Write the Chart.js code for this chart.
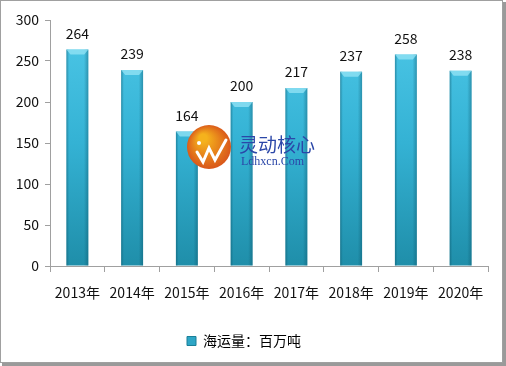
<!DOCTYPE html>
<html><head><meta charset="utf-8">
<script src="https://cdn.jsdelivr.net/npm/chart.js@4"></script>
<style>html,body{margin:0;padding:0;background:#fff}#wrap{width:506px;height:366px;position:relative}</style>
</head><body><div id="wrap"><canvas id="c" width="506" height="366"></canvas></div>
<script>
const categories = ['2013年','2014年','2015年','2016年','2017年','2018年','2019年','2020年'];
const seriesName = '海运量：百万吨';
const values = [264, 239, 164, 200, 217, 237, 258, 238];
const yTicks = [0, 50, 100, 150, 200, 250, 300];

const FONT = '"Noto Sans CJK SC", "DejaVu Sans", sans-serif';

const framePlugin = {
  id: 'frame',
  beforeDraw(chart) {
    const ctx = chart.ctx;
    ctx.save();
    ctx.fillStyle = '#fff';
    ctx.fillRect(0, 0, chart.width, chart.height);
    ctx.fillStyle = '#9a9a9a';
    ctx.fillRect(502, 2, 4, 364);
    ctx.fillRect(2, 362, 504, 4);
    ctx.strokeStyle = '#a0a0a0';
    ctx.lineWidth = 1;
    ctx.strokeRect(0.5, 0.5, 502, 362);
    ctx.restore();
  }
};

const watermarkPlugin = {
  id: 'watermark',
  afterDatasetsDraw(chart) {
    const ctx = chart.ctx;
    ctx.save();
    const g = ctx.createRadialGradient(203, 138, 4, 209, 147, 23);
    g.addColorStop(0, '#f5b21c');
    g.addColorStop(1, '#d8531a');
    ctx.fillStyle = g;
    ctx.beginPath();
    ctx.arc(209, 147, 22, 0, Math.PI * 2);
    ctx.fill();
    ctx.strokeStyle = '#fff';
    ctx.lineWidth = 3;
    ctx.lineCap = 'round';
    ctx.beginPath();
    ctx.moveTo(197, 152); ctx.lineTo(203, 162); ctx.lineTo(209, 148); ctx.lineTo(215, 160); ctx.lineTo(226, 140);
    ctx.stroke();
    ctx.fillStyle = '#fff';
    ctx.beginPath(); ctx.arc(199, 143, 2, 0, Math.PI * 2); ctx.fill();
    ctx.fillStyle = '#2b47a8';
    ctx.font = '19px ' + FONT;
    ctx.textAlign = 'left';
    ctx.textBaseline = 'alphabetic';
    ctx.fillText('灵动核心', 239, 152);
    ctx.font = '12px "Liberation Serif", serif';
    ctx.fillText('Ldhxcn.Com', 241, 165);
    ctx.restore();
  }
};

const barShadePlugin = {
  id: 'barShade',
  afterDatasetsDraw(chart) {
    const ctx = chart.ctx;
    const meta = chart.getDatasetMeta(0);
    ctx.save();
    meta.data.forEach((bar) => {
      const w = bar.width, l = bar.x - w / 2, r = bar.x + w / 2, t = bar.y, b = bar.base;
      const hg = ctx.createLinearGradient(l, 0, r, 0);
      hg.addColorStop(0, 'rgba(10,80,100,0.45)');
      hg.addColorStop(0.12, 'rgba(10,80,100,0.0)');
      hg.addColorStop(0.8, 'rgba(10,80,100,0.0)');
      hg.addColorStop(1, 'rgba(10,80,100,0.4)');
      ctx.fillStyle = hg;
      ctx.fillRect(l, t, w, b - t);
      ctx.fillStyle = 'rgba(150,228,245,0.75)';
      ctx.beginPath();
      ctx.moveTo(l, t);
      ctx.lineTo(r, t);
      ctx.lineTo(r - 4, t + 5);
      ctx.lineTo(l + 4, t + 5);
      ctx.closePath();
      ctx.fill();
    });
    ctx.restore();
  }
};

const labelPlugin = {
  id: 'valueLabels',
  afterDatasetsDraw(chart) {
    const ctx = chart.ctx;
    const meta = chart.getDatasetMeta(0);
    ctx.save();
    ctx.fillStyle = '#111';
    ctx.font = '14px ' + FONT;
    ctx.textAlign = 'center';
    ctx.textBaseline = 'bottom';
    meta.data.forEach((bar, i) => {
      ctx.fillText(String(values[i]), bar.x, bar.y - 9);
    });
    ctx.restore();
  }
};

function barGradient(context) {
  const chart = context.chart;
  const area = chart.chartArea;
  if (!area) return '#35b5d6';
  const g = chart.ctx.createLinearGradient(0, area.top, 0, area.bottom);
  g.addColorStop(0, '#4ec8e8');
  g.addColorStop(0.5, '#34b2d4');
  g.addColorStop(1, '#1f8ea9');
  return g;
}

new Chart(document.getElementById('c'), {
  type: 'bar',
  data: {
    labels: categories,
    datasets: [{
      label: seriesName,
      data: values,
      backgroundColor: barGradient,
      borderWidth: 0,
      barPercentage: 0.4,
      categoryPercentage: 1.0
    }]
  },
  options: {
    responsive: false,
    animation: false,
    devicePixelRatio: 1,
    layout: { padding: { top: 20, right: 18, left: 0, bottom: 8 } },
    plugins: {
      legend: {
        position: 'bottom',
        labels: {
          boxWidth: 9, boxHeight: 9, color: '#111',
          font: { family: FONT, size: 14 },
          padding: 10,
          generateLabels(chart) {
            return [{ text: seriesName, fillStyle: '#2ea6c6', strokeStyle: '#1a7f98', lineWidth: 1, datasetIndex: 0 }];
          }
        }
      },
      tooltip: { enabled: false }
    },
    scales: {
      x: {
        offset: true,
        grid: { display: true, drawOnChartArea: false, offset: true, tickLength: 6, color: '#a0a0a0' },
        border: { color: '#a0a0a0' },
        ticks: { color: '#111', font: { family: FONT, size: 14 }, padding: 12, maxRotation: 0 },
        afterFit(s) { s.height = 58; }
      },
      y: {
        min: 0, max: 300,
        afterBuildTicks(s) { s.ticks = yTicks.map(v => ({ value: v })); },
        grid: { display: true, drawOnChartArea: false, tickLength: 5, color: '#a0a0a0' },
        border: { color: '#a0a0a0' },
        ticks: { color: '#111', font: { family: FONT, size: 14 }, padding: 6 },
        afterFit(s) { s.width = 50; }
      }
    }
  },
  plugins: [framePlugin, barShadePlugin, labelPlugin, watermarkPlugin]
});
</script></body></html>
